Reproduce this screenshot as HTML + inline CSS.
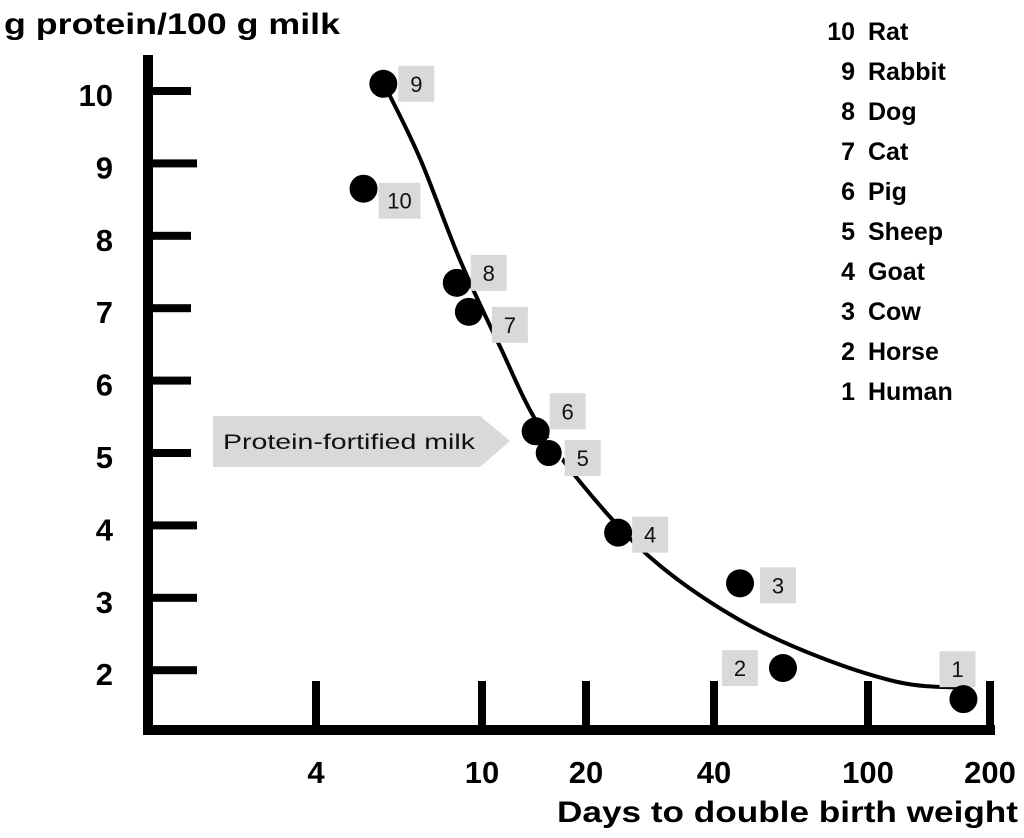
<!DOCTYPE html>
<html><head><meta charset="utf-8"><style>
html,body{margin:0;padding:0;background:#fff;}
svg{display:block;}
text{font-family:"Liberation Sans",sans-serif;}
</style></head><body>
<svg id="chart" width="1024" height="838" viewBox="0 0 1024 838" xmlns="http://www.w3.org/2000/svg">
<text x="4" y="34" font-size="30" font-weight="bold" textLength="336" lengthAdjust="spacingAndGlyphs">g protein/100 g milk</text>
<text x="557" y="822" font-size="30" font-weight="bold" textLength="461" lengthAdjust="spacingAndGlyphs">Days to double birth weight</text>
<rect x="143" y="55" width="10" height="680" fill="#000"/>
<rect x="143" y="725" width="852" height="10" fill="#000"/>
<g id="yticks"></g><g id="xticks"></g>
<g>
<polygon points="213,416 480,416 510,441 480,467 213,467" fill="#d9d9d9"/>
<text x="223" y="449" font-size="21" fill="#111" textLength="252" lengthAdjust="spacingAndGlyphs">Protein-fortified milk</text>
</g>
<g id="curve"></g><g id="points"></g><g id="legend"></g>
</svg>
<script>
const yTickValues=[10,9,8,7,6,5,4,3,2];
const xTickValues=[4,10,20,40,100,200];
const speciesIds=[1,2,3,4,5,6,7,8,9,10];
const speciesNames=["Human","Horse","Cow","Goat","Sheep","Pig","Cat","Dog","Rabbit","Rat"];
const daysToDouble=[172,60.3,46.7,23.8,15.6,14.3,9.3,8.7,5.8,5.2];
const proteinValues=[1.6,2.03,3.2,3.9,5.0,5.3,6.95,7.35,10.1,8.65];
const curveDays=[5.9,7.1,8.85,11.3,14.7,21.6,29.9,46.7,75,120,167];
const curveProtein=[10.03,9.07,7.67,6.46,5.36,4.27,3.44,2.69,2.18,1.83,1.76];

const NS="http://www.w3.org/2000/svg";
const xTickPx=[316,482,586,714,868,990];
function yScale(v){return 91+(10-v)*72.4;}
function xScale(d){
  const l=Math.log10(d),t=xTickValues.map(Math.log10);
  let i=0; if(l>t[t.length-1]) i=t.length-2; else {while(i<t.length-2&&l>t[i+1])i++;}
  return xTickPx[i]+(l-t[i])/(t[i+1]-t[i])*(xTickPx[i+1]-xTickPx[i]);
}
function mk(tag,attrs,parent){const e=document.createElementNS(NS,tag);for(const k in attrs)e.setAttribute(k,attrs[k]);parent.appendChild(e);return e;}

const yt=document.getElementById('yticks');
yTickValues.forEach(v=>{
  const y=yScale(v);
  const r=mk('rect',{x:153,y:y-4,width:v===9||v===4||v===3||v===2?44:38,height:8,fill:'#000'},yt);
  
  
  const t=mk('text',{x:113,y:y+15,'font-size':31,'font-weight':'bold','text-anchor':'end'},yt);
  t.textContent=v;
  
  
});
const xt=document.getElementById('xticks');
xTickValues.forEach(v=>{
  const x=xScale(v);
  const r=mk('rect',{x:x-4,y:681,width:8,height:46,fill:'#000'},xt);
  
  
  const t=mk('text',{x:x,y:783,'font-size':31,'font-weight':'bold','text-anchor':'middle'},xt);
  t.textContent=v;
  
  
});

const pts=curveDays.map((d,i)=>[xScale(d),yScale(curveProtein[i])]);
let dstr='M'+pts[0][0]+','+pts[0][1];
for(let i=0;i<pts.length-1;i++){
  const p0=pts[Math.max(0,i-1)],p1=pts[i],p2=pts[i+1],p3=pts[Math.min(pts.length-1,i+2)];
  const c1=[p1[0]+(p2[0]-p0[0])/6,p1[1]+(p2[1]-p0[1])/6];
  const c2=[p2[0]-(p3[0]-p1[0])/6,p2[1]-(p3[1]-p1[1])/6];
  dstr+=' C'+c1+' '+c2+' '+p2;
}
const cv=mk('path',{d:dstr,fill:'none',stroke:'#000','stroke-width':4},document.getElementById('curve'));



const boxOff={1:[-24,-48],2:[-61,-18],3:[20,-16],4:[14,-16],5:[16,-13],6:[14,-38],7:[23,-5],8:[14,-28],9:[15,-18],10:[15,-6]};
const pg=document.getElementById('points');
speciesIds.forEach((id,i)=>{
  const x=xScale(daysToDouble[i]),y=yScale(proteinValues[i]);
  const o=boxOff[id];
  const g=mk('g',{},pg);
  
  
  mk('rect',{x:x+o[0],y:y+o[1],width:36+(id===10?6:0),height:36,fill:'#d9d9d9'},g);
  const t=mk('text',{x:x+o[0]+18+(id===10?3:0),y:y+o[1]+26,'font-size':22,'text-anchor':'middle',fill:'#111'},g);
  t.textContent=id;
  mk('circle',{cx:x,cy:y,r:14,fill:'#000',stroke:id===5?'#fff':'none','stroke-width':2},g);
});

const lg=document.getElementById('legend');
for(let k=0;k<10;k++){
  const id=speciesIds[9-k],y=40+k*40;
  const g=mk('g',{},lg);
  
  
  const a=mk('text',{x:855,y:y,'font-size':25,'font-weight':'bold','text-anchor':'end'},g);a.textContent=id;
  const b=mk('text',{x:868,y:y,'font-size':25,'font-weight':'bold'},g);b.textContent=speciesNames[id-1];
}
</script>
</body></html>
